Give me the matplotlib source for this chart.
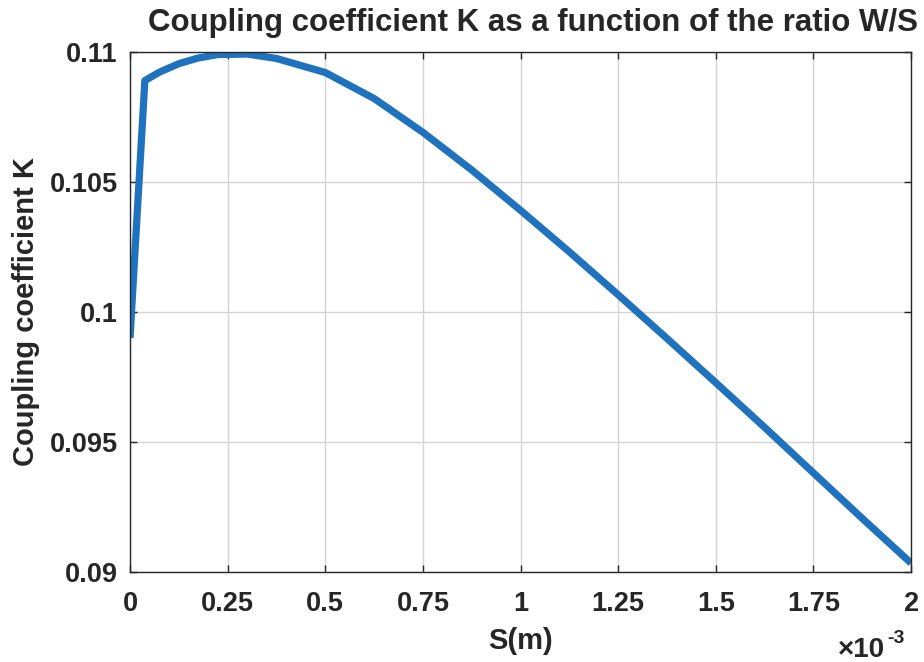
import numpy as np
import matplotlib
matplotlib.use("Agg")
import matplotlib.pyplot as plt

# S in metres (values given in units of 1e-3), K
s_vals = np.array([0.0, 0.038, 0.075, 0.125, 0.175, 0.225, 0.3, 0.375, 0.5,
                   0.625, 0.75, 0.875, 1.0, 1.125, 1.25, 1.375, 1.5, 1.625,
                   1.75, 1.875, 2.0]) * 1e-3
k_vals = np.array([0.0990, 0.10890, 0.10922, 0.10955, 0.10977, 0.10990,
                   0.10992, 0.10975, 0.10921, 0.10821, 0.10691, 0.10546,
                   0.10391, 0.10231, 0.10066, 0.09898, 0.09728, 0.09556,
                   0.09381, 0.09206, 0.09034])

x_ticks = [0, 0.25, 0.5, 0.75, 1, 1.25, 1.5, 1.75, 2]
x_labels = ["0", "0.25", "0.5", "0.75", "1", "1.25", "1.5", "1.75", "2"]
y_ticks = [0.09, 0.095, 0.1, 0.105, 0.11]
y_labels = ["0.09", "0.095", "0.1", "0.105", "0.11"]

plt.rcParams["font.family"] = ["Liberation Sans", "DejaVu Sans"]
plt.rcParams["font.weight"] = "bold"

dark = "#262626"

fig = plt.figure(figsize=(9.24, 6.62), dpi=100)
ax = fig.add_axes([0.1407, 0.136, 0.986 - 0.1407, 0.9215 - 0.136])

ax.plot(s_vals, k_vals, color="#1f72bd", linewidth=5.2,
        solid_capstyle="butt", solid_joinstyle="round")

ax.set_xlim(0, 2e-3)
ax.set_ylim(0.09, 0.11)
ax.set_xticks([t * 1e-3 for t in x_ticks])
ax.set_xticklabels(x_labels)
ax.set_yticks(y_ticks)
ax.set_yticklabels(y_labels)

ax.tick_params(direction="in", top=True, right=True, length=5, width=1,
               labelsize=19.5, colors=dark)
ax.tick_params(axis="x", pad=14)
ax.tick_params(axis="y", pad=9)
for lab in ax.get_xticklabels() + ax.get_yticklabels():
    lab.set_fontweight("bold")
for sp in ax.spines.values():
    sp.set_color(dark)
    sp.set_linewidth(1)

ax.grid(True, color="#d4d4d4", linewidth=1)
ax.set_axisbelow(True)

ax.set_xlabel("S(m)", fontsize=21, fontweight="bold", color=dark, labelpad=7)
ax.set_ylabel("Coupling coefficient K", fontsize=21, fontweight="bold",
              color=dark, labelpad=7)
ax.set_title("Coupling coefficient K as a function of the ratio W/S",
             fontsize=22.5, fontweight="bold", color=dark, pad=15, x=0.516)

# x-axis exponent, drawn as in the reference
fig.text(838 / 924, 1 - 657 / 662, "\u00d710", fontsize=20,
         fontweight="bold", color=dark, ha="left", va="baseline")
fig.text(887 / 924, 1 - 643 / 662, "-3", fontsize=14,
         fontweight="bold", color=dark, ha="left", va="baseline")

fig.savefig("out.png", dpi=100)
